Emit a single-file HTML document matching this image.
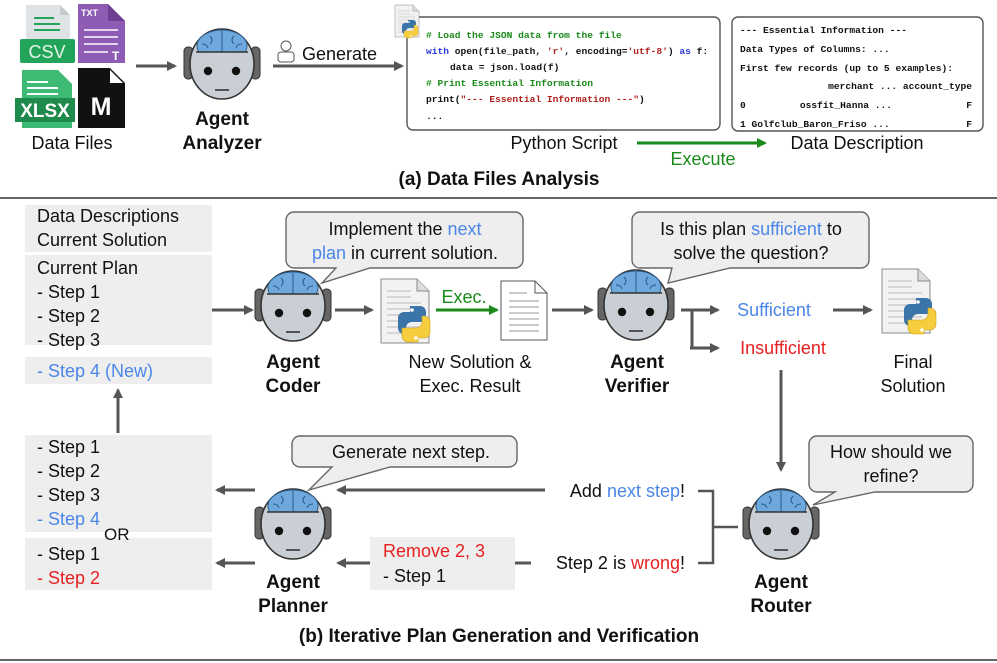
<!DOCTYPE html>
<html><head><meta charset="utf-8"><style>
html,body{margin:0;padding:0;background:#fff}
svg{display:block;font-family:"Liberation Sans",sans-serif}
.m{font-family:"Liberation Mono",monospace;font-size:9.6px;font-weight:bold}
.l{font-size:18px}
.b{font-size:19px;font-weight:bold;fill:#111}
</style></head><body>
<svg width="997" height="663" viewBox="0 0 997 663" xmlns="http://www.w3.org/2000/svg">
<defs>
<marker id="ah" markerWidth="10" markerHeight="10" refX="8" refY="5" orient="auto" markerUnits="userSpaceOnUse"><path d="M0,0 L10,5 L0,10 z" fill="#555"/></marker>
<marker id="ag" markerWidth="10" markerHeight="10" refX="8" refY="5" orient="auto" markerUnits="userSpaceOnUse"><path d="M0,0 L10,5 L0,10 z" fill="#1a8a1a"/></marker>
<clipPath id="bc"><rect x="-40" y="-40" width="80" height="28"/></clipPath>
<g id="robot">
<rect x="-38" y="-17" width="9" height="32" rx="4" fill="#666" stroke="#333"/>
<rect x="29" y="-17" width="9" height="32" rx="4" fill="#666" stroke="#333"/>
<ellipse cx="0" cy="0" rx="32" ry="35" fill="#c9cfd4" stroke="#333" stroke-width="1.6"/>
<g clip-path="url(#bc)"><ellipse cx="0" cy="-18" rx="25" ry="16" fill="#6fa8dc" stroke="#2a5d8a"/></g>
<path d="M0,-33 V-12 M-12,-28 q4,4 0,8 M12,-28 q-4,4 0,8 M-20,-20 q5,0 6,4 M20,-20 q-5,0 -6,4" stroke="#2a5d8a" fill="none"/>
<line x1="-26" y1="-12" x2="26" y2="-12" stroke="#333" stroke-width="1.4"/>
<circle cx="-14" cy="7" r="4.2" fill="#111"/><circle cx="14" cy="7" r="4.2" fill="#111"/>
<line x1="-7" y1="26" x2="7" y2="26" stroke="#333" stroke-width="1.6"/>
</g>
<g id="doc">
<path d="M0,0 H36 L48,12 V64 H0 z" fill="#f2f2f2" stroke="#888"/>
<path d="M36,0 V12 H48" fill="#ddd" stroke="#888"/>
<path d="M6,12 H30 M6,18 H30 M6,24 H40 M6,30 H40 M6,36 H40 M6,42 H40 M6,48 H40 M6,54 H40" stroke="#bbb"/>
</g>
<g id="py">
<path d="M10,0 h10 a6,6 0 0 1 6,6 v10 h-14 a6,6 0 0 0 -6,6 v6 h-2 a6,6 0 0 1 -6,-6 v-10 a6,6 0 0 1 6,-6 h6 z" fill="#3b74a8"/>
<path d="M18,36 h-10 a6,6 0 0 1 -6,-6 v-8 h14 a6,6 0 0 0 6,-6 v-6 h2 a6,6 0 0 1 6,6 v10 a6,6 0 0 1 -6,6 h-6 z" fill="#f5cd3e" stroke="#c9a21c" stroke-width=".6"/>
<circle cx="12" cy="4" r="1.8" fill="#fff"/><circle cx="16" cy="32" r="1.8" fill="#fff"/>
</g>
</defs>

<!-- (a) file icons -->
<path d="M26,5 H60 L70,15 V45 H26 z" fill="#dfe3e6"/><path d="M60,5 V15 H70" fill="#c5cacd"/>
<path d="M34,18 H54 M34,24 H60 M34,30 H60" stroke="#22a55a" stroke-width="2"/>
<rect x="20" y="39" width="55" height="24" rx="2" fill="#22a55a"/><text x="47" y="58" font-size="18" fill="#e8f5ee" text-anchor="middle">CSV</text>
<path d="M78,4 H108 L125,21 V63 H78 z" fill="#8e5bb5"/><path d="M108,4 V21 H125" fill="#6d3f93"/>
<text x="81" y="16" font-size="9" font-weight="bold" fill="#fff">TXT</text>
<path d="M84,30 H118 M84,37 H118 M84,44 H118 M84,52 H108" stroke="#fff" stroke-width="1.6"/><text x="112" y="60" font-size="12" font-weight="bold" fill="#fff">T</text>
<path d="M22,70 H58 L72,84 V128 H22 z" fill="#3dbb74"/>
<path d="M27,82 H48 M27,88 H58 M27,94 H58" stroke="#fff" stroke-width="2"/>
<rect x="15" y="98" width="60" height="24" fill="#1e8a4c"/><text x="45" y="117" font-size="19" font-weight="bold" fill="#fff" text-anchor="middle">XLSX</text>
<path d="M78,68 H110 L125,83 V128 H78 z" fill="#111"/><path d="M110,70 V83 H123" fill="#fff"/>
<text x="101" y="115" font-size="25" font-weight="bold" fill="#fff" text-anchor="middle">M</text>
<text x="72" y="149" class="l" fill="#111" text-anchor="middle">Data Files</text>
<line x1="136" y1="66" x2="175" y2="66" stroke="#555" stroke-width="3" marker-end="url(#ah)"/>
<use href="#robot" x="222" y="64"/>
<text x="222" y="125" class="b" text-anchor="middle">Agent</text>
<text x="222" y="149" class="b" text-anchor="middle">Analyzer</text>
<circle cx="286" cy="46" r="5" fill="none" stroke="#555"/><rect x="278" y="52" width="16" height="10" rx="3" fill="#fff" stroke="#555"/>
<text x="302" y="60" font-size="18" fill="#111">Generate</text>
<line x1="273" y1="66" x2="402" y2="66" stroke="#555" stroke-width="3" marker-end="url(#ah)"/>
<rect x="407" y="17" width="313" height="113" rx="6" fill="#fff" stroke="#555" stroke-width="1.4"/>
<g transform="translate(395,5) scale(.5)"><use href="#doc"/></g><g transform="translate(403,20) scale(.5)"><use href="#py"/></g>
<text x="426" y="38" class="m" fill="#1a8a1a">#&#160;Load the JSON data from the file</text>
<text x="426" y="54" class="m"><tspan fill="#2a3ce0">with</tspan><tspan fill="#111"> open(file_path, </tspan><tspan fill="#b02020">'r'</tspan><tspan fill="#111">, encoding=</tspan><tspan fill="#b02020">'utf-8'</tspan><tspan fill="#111">) </tspan><tspan fill="#2a3ce0">as</tspan><tspan fill="#111"> f:</tspan></text>
<text x="450" y="70" class="m" fill="#111">data = json.load(f)</text>
<text x="426" y="86" class="m" fill="#1a8a1a"># Print Essential Information</text>
<text x="426" y="102" class="m"><tspan fill="#111">print(</tspan><tspan fill="#b02020">"--- Essential Information ---"</tspan><tspan fill="#111">)</tspan></text>
<text x="426" y="119" class="m" fill="#111">...</text>
<rect x="732" y="17" width="251" height="114" rx="6" fill="#fff" stroke="#555" stroke-width="1.4"/>
<g class="m" fill="#111">
<text x="740" y="33">--- Essential Information ---</text>
<text x="740" y="52">Data Types of Columns: ...</text>
<text x="740" y="71">First few records (up to 5 examples):</text>
<text x="972" y="89" text-anchor="end">merchant ... account_type</text>
<text x="740" y="108">0</text><text x="892" y="108" text-anchor="end">ossfit_Hanna ...</text><text x="972" y="108" text-anchor="end">F</text>
<text x="740" y="127">1 Golfclub_Baron_Friso ...</text><text x="972" y="127" text-anchor="end">F</text>
</g>
<text x="564" y="149" class="l" fill="#111" text-anchor="middle">Python Script</text>
<line x1="637" y1="143" x2="765" y2="143" stroke="#1a8a1a" stroke-width="3" marker-end="url(#ag)"/>
<text x="703" y="165" font-size="18" fill="#1a8a1a" text-anchor="middle">Execute</text>
<text x="857" y="149" class="l" fill="#111" text-anchor="middle">Data Description</text>
<text x="499" y="185" class="b" text-anchor="middle">(a) Data Files Analysis</text>
<line x1="0" y1="198" x2="997" y2="198" stroke="#666" stroke-width="2"/>

<!-- (b) left boxes -->
<rect x="25" y="205" width="187" height="47" fill="#eee"/>
<rect x="25" y="255" width="187" height="90" fill="#eee"/>
<rect x="25" y="357" width="187" height="27" fill="#eee"/>
<g class="l" fill="#111">
<text x="37" y="222">Data Descriptions</text><text x="37" y="246">Current Solution</text>
<text x="37" y="274">Current Plan</text><text x="37" y="298">- Step 1</text><text x="37" y="322">- Step 2</text><text x="37" y="346">- Step 3</text>
<text x="37" y="377" fill="#4a86e8">- Step 4 (New)</text>
</g>
<line x1="118" y1="433" x2="118" y2="390" stroke="#555" stroke-width="3" marker-end="url(#ah)"/>
<rect x="25" y="435" width="187" height="97" fill="#eee"/>
<rect x="25" y="538" width="187" height="52" fill="#eee"/>
<g class="l" fill="#111">
<text x="37" y="453">- Step 1</text><text x="37" y="477">- Step 2</text><text x="37" y="501">- Step 3</text>
<text x="37" y="525" fill="#4a86e8">- Step 4</text>
<text x="104" y="540" font-size="17">OR</text>
<text x="37" y="560">- Step 1</text><text x="37" y="584" fill="#e82020">- Step 2</text>
</g>
<line x1="255" y1="490" x2="217" y2="490" stroke="#555" stroke-width="3" marker-end="url(#ah)"/>
<line x1="255" y1="563" x2="217" y2="563" stroke="#555" stroke-width="3" marker-end="url(#ah)"/>

<!-- coder row -->
<line x1="212" y1="310" x2="252" y2="310" stroke="#555" stroke-width="3" marker-end="url(#ah)"/>
<path d="M294,212 H515 a8,8 0 0 1 8,8 V260 a8,8 0 0 1 -8,8 H370 L322,283 L336,268 H294 a8,8 0 0 1 -8,-8 V220 a8,8 0 0 1 8,-8 z" fill="#eee" stroke="#666" stroke-width="1.4"/>
<text x="405" y="235" class="l" fill="#111" text-anchor="middle">Implement the <tspan fill="#4a86e8">next</tspan></text>
<text x="405" y="259" class="l" fill="#111" text-anchor="middle"><tspan fill="#4a86e8">plan</tspan> in current solution.</text>
<use href="#robot" x="293" y="306"/>
<text x="293" y="368" class="b" text-anchor="middle">Agent</text>
<text x="293" y="392" class="b" text-anchor="middle">Coder</text>
<line x1="335" y1="310" x2="372" y2="310" stroke="#555" stroke-width="3" marker-end="url(#ah)"/>
<use href="#doc" x="381" y="279"/><use href="#py" x="400" y="306"/>
<line x1="436" y1="310" x2="497" y2="310" stroke="#1a8a1a" stroke-width="3" marker-end="url(#ag)"/>
<text x="464" y="303" font-size="18" fill="#1a8a1a" text-anchor="middle">Exec.</text>
<g transform="translate(501,281)"><path d="M0,0 H34 L46,12 V59 H0 z" fill="#fff" stroke="#555"/><path d="M34,0 V12 H46" fill="none" stroke="#555"/><path d="M8,12 H26 M8,20 H38 M8,26 H38 M8,32 H38 M8,38 H38 M8,44 H38 M8,50 H38" stroke="#999"/></g>
<line x1="552" y1="310" x2="592" y2="310" stroke="#555" stroke-width="3" marker-end="url(#ah)"/>
<text x="470" y="368" class="l" fill="#111" text-anchor="middle">New Solution &amp;</text>
<text x="470" y="392" class="l" fill="#111" text-anchor="middle">Exec. Result</text>

<!-- verifier -->
<path d="M640,212 H861 a8,8 0 0 1 8,8 V260 a8,8 0 0 1 -8,8 H730 L668,283 L672,268 H640 a8,8 0 0 1 -8,-8 V220 a8,8 0 0 1 8,-8 z" fill="#eee" stroke="#666" stroke-width="1.4"/>
<text x="751" y="235" class="l" fill="#111" text-anchor="middle">Is this plan <tspan fill="#4a86e8">sufficient</tspan> to</text>
<text x="751" y="259" class="l" fill="#111" text-anchor="middle">solve the question?</text>
<use href="#robot" x="636" y="305"/>
<text x="637" y="368" class="b" text-anchor="middle">Agent</text>
<text x="637" y="392" class="b" text-anchor="middle">Verifier</text>
<path d="M681,310 H692 V348" fill="none" stroke="#555" stroke-width="3"/>
<line x1="690" y1="310" x2="718" y2="310" stroke="#555" stroke-width="3" marker-end="url(#ah)"/>
<line x1="690" y1="348" x2="718" y2="348" stroke="#555" stroke-width="3" marker-end="url(#ah)"/>
<text x="774" y="316" class="l" fill="#4a86e8" text-anchor="middle">Sufficient</text>
<text x="783" y="354" class="l" fill="#e82020" text-anchor="middle">Insufficient</text>
<line x1="833" y1="310" x2="871" y2="310" stroke="#555" stroke-width="3" marker-end="url(#ah)"/>
<use href="#doc" x="882" y="269"/><use href="#py" x="906" y="298"/>
<text x="913" y="368" class="l" fill="#111" text-anchor="middle">Final</text>
<text x="913" y="392" class="l" fill="#111" text-anchor="middle">Solution</text>
<line x1="781" y1="370" x2="781" y2="470" stroke="#555" stroke-width="3" marker-end="url(#ah)"/>

<!-- router -->
<path d="M817,436 H965 a8,8 0 0 1 8,8 V484 a8,8 0 0 1 -8,8 H875 L813,505 L835,492 H817 a8,8 0 0 1 -8,-8 V444 a8,8 0 0 1 8,-8 z" fill="#eee" stroke="#666" stroke-width="1.4"/>
<text x="891" y="458" class="l" fill="#111" text-anchor="middle">How should we</text>
<text x="891" y="482" class="l" fill="#111" text-anchor="middle">refine?</text>
<use href="#robot" x="781" y="524"/>
<text x="781" y="588" class="b" text-anchor="middle">Agent</text>
<text x="781" y="612" class="b" text-anchor="middle">Router</text>
<path d="M698,491 H713 V563 H698 M713,527 H738" fill="none" stroke="#555" stroke-width="2.5"/>
<text x="685" y="497" class="l" fill="#111" text-anchor="end">Add <tspan fill="#4a86e8">next step</tspan>!</text>
<text x="685" y="569" class="l" fill="#111" text-anchor="end">Step 2 is <tspan fill="#e82020">wrong</tspan>!</text>
<line x1="545" y1="490" x2="338" y2="490" stroke="#555" stroke-width="3" marker-end="url(#ah)"/>
<line x1="515" y1="563" x2="531" y2="563" stroke="#555" stroke-width="3"/>
<rect x="370" y="537" width="145" height="53" fill="#eee"/>
<text x="383" y="557" class="l" fill="#e82020">Remove 2, 3</text>
<text x="383" y="582" class="l" fill="#111">- Step 1</text>
<line x1="370" y1="563" x2="338" y2="563" stroke="#555" stroke-width="3" marker-end="url(#ah)"/>

<!-- planner -->
<path d="M300,436 H509 a8,8 0 0 1 8,8 V459 a8,8 0 0 1 -8,8 H390 L309,490 L332,467 H300 a8,8 0 0 1 -8,-8 V444 a8,8 0 0 1 8,-8 z" fill="#eee" stroke="#666" stroke-width="1.4"/>
<text x="411" y="458" class="l" fill="#111" text-anchor="middle">Generate next step.</text>
<use href="#robot" x="293" y="524"/>
<text x="293" y="588" class="b" text-anchor="middle">Agent</text>
<text x="293" y="612" class="b" text-anchor="middle">Planner</text>
<text x="499" y="642" class="b" text-anchor="middle">(b) Iterative Plan Generation and Verification</text>
<line x1="0" y1="660" x2="997" y2="660" stroke="#666" stroke-width="2"/>
</svg>
</body></html>
